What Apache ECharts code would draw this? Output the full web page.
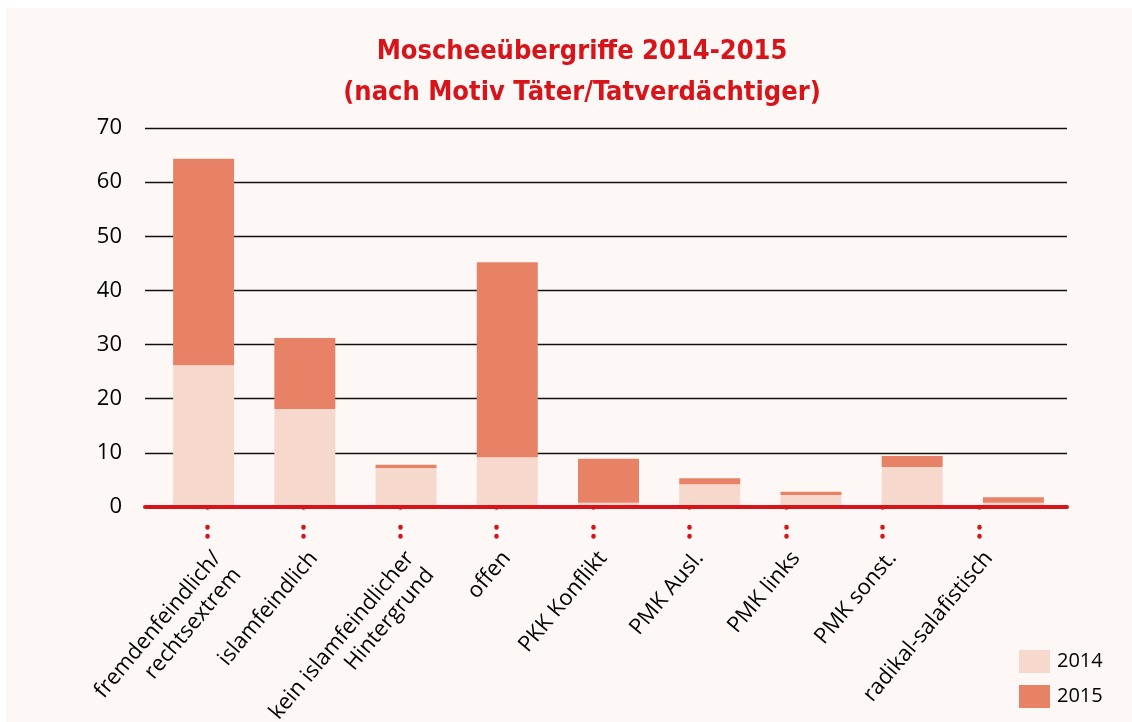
<!DOCTYPE html>
<html>
<head>
<meta charset="utf-8">
<script src="https://cdn.jsdelivr.net/npm/echarts@6/dist/echarts.min.js"></script>
<style>
  html, body { margin: 0; padding: 0; background: #ffffff; }
  #chart { width: 1132px; height: 722px; }
</style>
</head>
<body>
<div id="chart"></div>
<script>
  // Kategorien (Motiv Täter/Tatverdächtige)
  const categories = [
    'fremdenfeindlich/\nrechtsextrem',
    'islamfeindlich',
    'kein islamfeindlicher\nHintergrund',
    'offen',
    'PKK Konflikt',
    'PMK Ausl.',
    'PMK links',
    'PMK sonst.',
    'radikal-salafistisch'
  ]
  // Werte
  const values2014 = [26.2, 18.1, 7.2, 9.2, 0.8, 4.2, 2.2, 7.4, 0.8]
  const values2015 = [38.1, 13.1, 0.6, 36.0, 8.1, 1.1, 0.6, 2.0, 1.0]
  const yTicks = [0, 10, 20, 30, 40, 50, 60, 70]

  const red = '#d7141a'
  const gridTop = 128
  const gridBottom = 215
  const font = '"Open Sans", "Noto Sans", sans-serif'

  // ein roter Punkt pro Kategorie, je Achse um offset nach unten versetzt
  const dotAxis = (offset, withLabels) => ({
    gridIndex: 2,
    type: 'category',
    position: 'bottom',
    data: categories,
    offset: offset,
    axisLine: { show: false },
    axisTick: {
      show: true,
      alignWithLabel: true,
      interval: 0,
      length: 0.5,
      lineStyle: { color: red, width: 4.5, cap: 'round' }
    },
    axisLabel: withLabels
      ? {
          interval: 0,
          rotate: 50,
          margin: 28,
          verticalAlign: 'top',
          fontFamily: font,
          fontSize: 22,
          lineHeight: 26,
          color: '#000'
        }
      : { show: false }
  })

  const chart = echarts.init(document.getElementById('chart'))

  const option = {
    backgroundColor: '#ffffff',
    animation: false,
    graphic: [
      {
        type: 'rect',
        z: -10,
        shape: { x: 6, y: 8, width: 1126, height: 714 },
        style: { fill: '#fdf8f6' }
      }
    ],
    title: {
      text: 'Moscheeübergriffe 2014-2015\n(nach Motiv Täter/Tatverdächtiger)',
      left: 577,
      top: 26,
      textAlign: 'center',
      textStyle: {
        color: red,
        fontFamily: '"Liberation Sans Narrow", "DejaVu Sans Condensed", sans-serif',
        fontWeight: 'bold',
        fontSize: 27,
        lineHeight: 41
      }
    },
    legend: {
      orient: 'vertical',
      left: 1014,
      top: 645,
      itemWidth: 31,
      itemHeight: 23,
      itemGap: 12,
      icon: 'rect',
      textStyle: { fontFamily: font, fontSize: 20, color: '#000', padding: [0, 0, 0, 2] },
      data: ['2014', '2015']
    },
    grid: [
      // Balken
      { left: 153, right: 68, top: gridTop, bottom: gridBottom, outerBoundsMode: 'none' },
      // Rahmen: Gitterlinien und rote Achse
      { left: 145, right: 65, top: gridTop, bottom: gridBottom, outerBoundsMode: 'none' },
      // Beschriftung mit roten Punkten
      { left: 159, right: 105, top: gridTop, bottom: gridBottom, outerBoundsMode: 'none' }
    ],
    xAxis: [
      {
        gridIndex: 0,
        type: 'category',
        data: categories,
        show: false
      },
      {
        gridIndex: 1,
        type: 'category',
        data: categories,
        z: 5,
        axisLine: { show: true, lineStyle: { color: red, width: 4 } },
        axisTick: { show: false },
        axisLabel: { show: false }
      },
      dotAxis(11, true),
      dotAxis(20, false),
      dotAxis(29, false)
    ],
    yAxis: [
      { gridIndex: 0, type: 'value', min: 0, max: 70, interval: 10, show: false },
      {
        gridIndex: 1,
        type: 'value',
        min: 0,
        max: 70,
        interval: 10,
        axisLine: { show: false },
        axisTick: { show: false },
        axisLabel: {
          margin: 23,
          fontFamily: font,
          fontSize: 22,
          color: '#000',
          formatter: (v) => (yTicks.includes(v) ? String(v) : '')
        },
        splitLine: { show: true, lineStyle: { color: '#111', width: 1.3 } }
      },
      { gridIndex: 2, type: 'value', min: 0, max: 70, show: false }
    ],
    series: [
      {
        name: '2014',
        type: 'bar',
        stack: 'motiv',
        xAxisIndex: 0,
        yAxisIndex: 0,
        barWidth: 61,
        itemStyle: { color: '#f7d8cc' },
        data: values2014
      },
      {
        name: '2015',
        type: 'bar',
        stack: 'motiv',
        xAxisIndex: 0,
        yAxisIndex: 0,
        barWidth: 61,
        itemStyle: { color: '#e78266' },
        data: values2015
      }
    ]
  }

  chart.setOption(option)
</script>
</body>
</html>
